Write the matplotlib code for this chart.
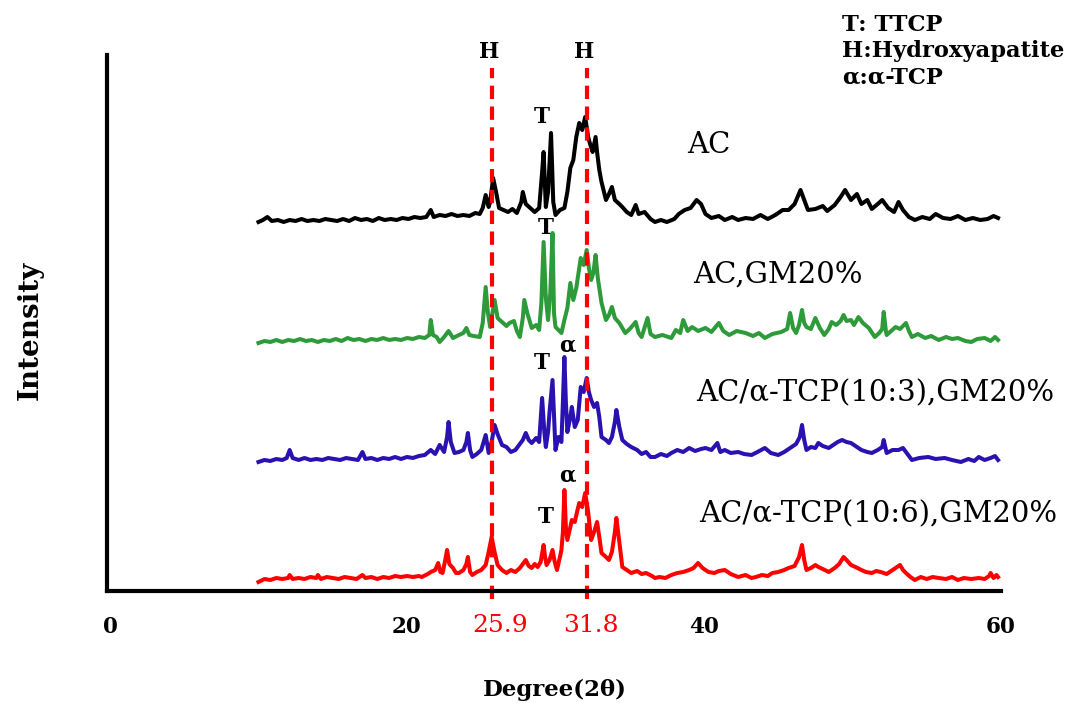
import matplotlib
matplotlib.use("Agg")
import matplotlib.pyplot as plt

plt.rcParams['font.family'] = ['DejaVu Serif']

# ---- XRD patterns (degree 2theta, intensity above own baseline) ----
ac_deg = [10.0, 10.3, 10.6, 10.9, 11.3, 11.7, 12.1, 12.5, 12.9, 13.3, 13.7, 14.1, 14.5, 14.9,
          15.3, 15.7, 16.1, 16.5, 16.9, 17.3, 17.7, 18.1, 18.5, 18.9, 19.3, 19.7, 20.1, 20.5,
          20.9, 21.3, 21.6, 21.8, 22.2, 22.6, 23.0, 23.4, 23.8, 24.2, 24.6, 24.9, 25.1, 25.3,
          25.5, 25.6, 25.8, 26.0, 26.2, 26.5, 26.8, 27.1, 27.4, 27.7, 27.8, 28.0, 28.3, 28.6,
          28.9, 29.1, 29.2, 29.35, 29.5, 29.7, 29.85, 30.0, 30.3, 30.6, 30.8, 31.0, 31.2, 31.4,
          31.6, 31.8, 32.0, 32.2, 32.35, 32.5, 32.7, 32.8, 32.95, 33.1, 33.4, 33.6, 33.8, 34.0,
          34.3, 34.5, 34.8, 35.1, 35.4, 35.6, 36.0, 36.4, 36.7, 37.1, 37.5, 38.0, 38.3, 38.7,
          39.1, 39.5, 39.8, 40.1, 40.5, 41.0, 41.4, 41.9, 42.3, 42.8, 43.3, 43.8, 44.3, 44.8,
          45.3, 45.7, 46.1, 46.5, 46.8, 47.0, 47.5, 48.0, 48.3, 48.8, 49.2, 49.5, 49.9, 50.3,
          50.6, 51.0, 51.3, 51.7, 52.0, 52.4, 52.8, 53.1, 53.4, 53.8, 54.2, 54.7, 55.2, 55.6,
          56.1, 56.6, 57.1, 57.6, 58.1, 58.6, 59.1, 59.5, 59.8]
ac_int = [0, 2, 5, 1, 2, 0, 2, 1, 3, 1, 2, 1, 3, 2,
          1, 3, 1, 4, 2, 3, 1, 4, 2, 3, 2, 4, 3, 5,
          4, 5, 12, 5, 7, 6, 8, 6, 7, 6, 9, 8, 14, 27,
          15, 20, 44, 30, 14, 12, 10, 13, 9, 20, 30, 18, 14, 10,
          14, 50, 70, 15, 30, 89, 20, 7, 12, 14, 30, 54, 62, 85,
          99, 92, 105, 85, 77, 70, 85, 70, 52, 40, 22, 28, 35, 22,
          18, 15, 10, 7, 17, 8, 10, 3, 0, 2, 0, 3, 8, 12,
          14, 22, 18, 8, 4, 6, 2, 5, 2, 4, 3, 7, 3, 7,
          12, 12, 18, 32, 20, 12, 13, 16, 11, 17, 25, 32, 22, 28,
          18, 22, 13, 18, 22, 14, 10, 20, 12, 5, 2, 5, 3, 8,
          4, 3, 6, 2, 4, 2, 3, 6, 4]

gm_deg = [10.0, 10.4, 10.8, 11.2, 11.6, 12.0, 12.4, 12.8, 13.2, 13.6, 14.0, 14.4, 14.8, 15.2,
          15.6, 16.0, 16.4, 16.8, 17.2, 17.6, 18.0, 18.4, 18.8, 19.2, 19.6, 20.0, 20.4, 20.8,
          21.2, 21.5, 21.6, 21.75, 22.0, 22.2, 22.5, 22.8, 23.1, 23.5, 23.8, 24.0, 24.2, 24.5,
          24.9, 25.1, 25.3, 25.45, 25.6, 25.9, 26.1, 26.4, 26.7, 26.9, 27.2, 27.4, 27.6, 27.8,
          27.9, 28.1, 28.4, 28.7, 28.9, 29.05, 29.2, 29.35, 29.5, 29.65, 29.8, 29.9, 30.0, 30.2,
          30.4, 30.6, 30.8, 31.0, 31.2, 31.4, 31.7, 31.9, 32.1, 32.25, 32.4, 32.55, 32.7, 32.85,
          33.1, 33.4, 33.6, 33.8, 34.0, 34.3, 34.5, 34.7, 35.0, 35.4, 35.6, 35.8, 36.2, 36.4,
          36.7, 37.2, 37.8, 38.1, 38.4, 38.6, 38.9, 39.2, 39.6, 40.1, 40.5, 41.0, 41.3, 41.7,
          42.2, 42.8, 43.3, 43.7, 44.1, 44.6, 45.2, 45.6, 45.8, 46.0, 46.2, 46.4, 46.6, 46.75,
          46.9, 47.2, 47.5, 47.8, 48.1, 48.4, 48.6, 48.9, 49.2, 49.4, 49.6, 49.9, 50.1, 50.4,
          50.7, 51.1, 51.5, 51.8, 52.0, 52.1, 52.25, 52.3, 52.6, 52.9, 53.2, 53.6, 53.8, 54.0,
          54.4, 54.9, 55.3, 55.8, 56.3, 56.7, 57.1, 57.6, 58.0, 58.4, 58.9, 59.3, 59.6, 59.8]
gm_int = [0, 2, 1, 3, 1, 3, 2, 4, 2, 3, 1, 3, 2, 4,
          2, 5, 3, 4, 2, 4, 3, 5, 3, 4, 3, 5, 4, 6,
          5, 8, 23, 8, 6, 1, 6, 12, 5, 8, 10, 15, 8, 7,
          6, 20, 56, 30, 16, 43, 25, 21, 17, 20, 22, 12, 6, 25,
          43, 30, 15, 18, 13, 40, 101, 45, 23, 50, 110, 30, 16, 13,
          10, 23, 35, 60, 43, 55, 85, 78, 93, 75, 63, 70, 88, 65,
          40, 23, 28, 36, 25, 20, 15, 10, 14, 21, 10, 6, 25, 9,
          6, 8, 5, 13, 10, 23, 12, 16, 12, 15, 11, 20, 12, 8,
          12, 10, 7, 10, 5, 9, 11, 14, 30, 15, 10, 18, 33, 20,
          16, 14, 25, 15, 8, 14, 21, 18, 22, 28, 22, 23, 18, 26,
          20, 15, 6, 10, 14, 31, 12, 8, 12, 16, 14, 20, 12, 6,
          9, 5, 7, 3, 6, 4, 5, 2, 1, 4, 5, 2, 6, 3]

tcp3_deg = [10.0, 10.4, 10.8, 11.2, 11.6, 11.9, 12.1, 12.3, 12.7, 13.1, 13.5, 13.9, 14.3, 14.7,
            15.1, 15.5, 15.9, 16.3, 16.7, 17.0, 17.2, 17.6, 18.0, 18.4, 18.8, 19.2, 19.6, 20.0,
            20.4, 20.8, 21.2, 21.6, 21.9, 22.2, 22.5, 22.7, 22.8, 22.95, 23.2, 23.5, 23.8, 24.0,
            24.1, 24.25, 24.4, 24.7, 25.0, 25.3, 25.5, 25.7, 25.9, 26.1, 26.4, 26.7, 27.0, 27.3,
            27.6, 27.8, 28.0, 28.2, 28.4, 28.7, 28.9, 29.1, 29.25, 29.35, 29.5, 29.6, 29.8, 29.95,
            30.0, 30.2, 30.4, 30.5, 30.6, 30.7, 30.8, 31.0, 31.1, 31.3, 31.5, 31.7, 31.9, 32.1,
            32.25, 32.4, 32.6, 32.8, 32.95, 33.1, 33.4, 33.6, 33.8, 34.0, 34.1, 34.3, 34.5, 34.8,
            35.1, 35.5, 35.8, 36.1, 36.4, 36.7, 37.1, 37.5, 37.8, 38.2, 38.6, 39.0, 39.4, 39.8,
            40.1, 40.5, 40.9, 41.1, 41.4, 41.8, 42.3, 42.7, 43.2, 43.6, 44.1, 44.5, 45.0, 45.4,
            45.9, 46.2, 46.45, 46.6, 46.75, 46.9, 47.2, 47.5, 47.7, 48.0, 48.4, 48.7, 49.0, 49.3,
            49.6, 49.9, 50.2, 50.6, 51.0, 51.3, 51.7, 52.0, 52.1, 52.25, 52.3, 52.7, 53.1, 53.4,
            53.6, 54.0, 54.5, 55.1, 55.6, 56.2, 56.7, 57.3, 57.8, 58.2, 58.5, 58.9, 59.3, 59.6,
            59.8]
tcp3_int = [0, 2, 1, 3, 2, 4, 12, 4, 2, 4, 2, 3, 2, 4,
            3, 2, 4, 3, 2, 10, 3, 4, 2, 4, 3, 5, 3, 5,
            4, 6, 7, 12, 8, 17, 10, 25, 40, 20, 9, 10, 12, 20,
            29, 12, 5, 8, 12, 27, 9, 20, 37, 28, 17, 15, 10, 12,
            18, 22, 29, 22, 19, 24, 20, 64, 30, 15, 30, 50, 82, 30,
            12, 25, 20, 60, 105, 60, 30, 45, 55, 35, 42, 75, 70, 84,
            70, 62, 55, 59, 45, 25, 22, 19, 25, 40, 52, 35, 22, 18,
            15, 12, 8, 10, 5, 5, 8, 6, 9, 12, 10, 14, 11, 13,
            14, 12, 19, 10, 12, 9, 10, 8, 7, 10, 14, 9, 7, 10,
            15, 18, 25, 37, 22, 12, 15, 14, 19, 16, 14, 17, 20, 22,
            20, 19, 16, 12, 10, 9, 12, 15, 22, 12, 9, 12, 12, 14,
            10, 2, 4, 5, 3, 4, 2, 0, 3, 1, 5, 2, 4, 6,
            2]

tcp6_deg = [10.0, 10.4, 10.8, 11.2, 11.6, 12.0, 12.1, 12.3, 12.7, 13.1, 13.5, 13.9, 14.0, 14.2,
            14.6, 15.0, 15.4, 15.8, 16.2, 16.6, 17.0, 17.2, 17.6, 18.0, 18.4, 18.8, 19.2, 19.6,
            20.0, 20.4, 20.8, 21.0, 21.4, 21.6, 21.9, 22.1, 22.25, 22.4, 22.55, 22.7, 22.85, 23.1,
            23.3, 23.5, 23.8, 24.0, 24.1, 24.25, 24.4, 24.7, 25.0, 25.3, 25.5, 25.7, 25.9, 26.1,
            26.4, 26.7, 27.0, 27.3, 27.6, 27.8, 28.0, 28.2, 28.4, 28.6, 28.8, 29.0, 29.2, 29.3,
            29.4, 29.6, 29.8, 29.95, 30.1, 30.3, 30.4, 30.5, 30.6, 30.7, 30.8, 31.0, 31.1, 31.3,
            31.45, 31.6, 31.8, 32.0, 32.2, 32.4, 32.6, 32.8, 32.95, 33.1, 33.4, 33.6, 33.8, 34.0,
            34.1, 34.3, 34.5, 34.8, 35.1, 35.5, 35.8, 36.1, 36.5, 36.7, 37.0, 37.4, 37.8, 38.2,
            38.6, 39.0, 39.3, 39.6, 39.9, 40.3, 40.7, 41.0, 41.4, 41.8, 42.3, 42.8, 43.2, 43.5,
            43.9, 44.3, 44.6, 45.0, 45.4, 45.7, 46.1, 46.4, 46.6, 46.75, 46.9, 47.2, 47.5, 47.7,
            48.0, 48.4, 48.8, 49.1, 49.4, 49.6, 49.9, 50.2, 50.6, 50.9, 51.3, 51.6, 51.9, 52.3,
            52.7, 53.0, 53.2, 53.4, 53.6, 53.9, 54.2, 54.6, 55.0, 55.4, 55.8, 56.3, 56.7, 57.1,
            57.5, 58.0, 58.5, 58.9, 59.2, 59.3, 59.5, 59.7, 59.8]
tcp6_int = [0, 3, 2, 4, 3, 4, 7, 3, 4, 3, 5, 4, 7, 3,
            5, 4, 3, 5, 4, 3, 7, 4, 5, 3, 5, 4, 6, 5,
            6, 5, 6, 5, 8, 10, 12, 19, 10, 9, 20, 32, 18, 14,
            9, 9, 12, 18, 25, 10, 7, 10, 12, 17, 30, 45, 30, 17,
            12, 9, 12, 10, 14, 18, 22, 16, 14, 18, 15, 20, 37, 25,
            17, 22, 32, 20, 12, 25, 32, 50, 92, 55, 42, 55, 62, 60,
            70, 79, 75, 89, 70, 42, 50, 60, 45, 29, 25, 22, 30, 50,
            64, 40, 15, 12, 9, 11, 8, 9, 6, 4, 5, 4, 7, 9,
            10, 12, 14, 19, 14, 10, 9, 11, 12, 8, 5, 7, 4, 5,
            7, 6, 9, 10, 12, 14, 16, 25, 37, 22, 12, 14, 17, 15,
            13, 10, 14, 18, 25, 22, 17, 15, 12, 10, 9, 11, 10, 8,
            12, 15, 17, 12, 9, 5, 2, 5, 3, 5, 4, 3, 5, 2,
            4, 3, 4, 3, 6, 9, 4, 7, 5]

labels = ["AC", "AC,GM20%", "AC/α-TCP(10:3),GM20%", "AC/α-TCP(10:6),GM20%"]
colors = ["#000000", "#2e9b3a", "#2a12b0", "#ff0000"]
offsets = [369, 248, 129, 9]
hap_pos = [25.7, 32.1]
hap_text = ["25.9", "31.8"]
hap_text_x = [26.3, 32.4]

fig = plt.figure(figsize=(10.71, 7.11), dpi=100)
ax = fig.add_axes([107 / 1071, 120 / 711, 894 / 1071, 536 / 711])

data = [(ac_deg, ac_int), (gm_deg, gm_int), (tcp3_deg, tcp3_int), (tcp6_deg, tcp6_int)]
for (xs, ys), c, off in zip(data, colors, offsets):
    ax.plot(xs, [v + off for v in ys], color=c, lw=2.9, solid_joinstyle='round')

# hydroxyapatite reference lines
for x in hap_pos:
    ax.plot([x, x], [-8, 523], color="#ff0000", lw=3, dashes=(3.2, 1.8), clip_on=False)
    ax.text(x - 0.15, 539, "H", ha="center", va="center", fontsize=15.5, fontweight="bold",
            clip_on=False)
for x, t in zip(hap_text_x, hap_text):
    ax.text(x, -34, t, ha="center", va="center", fontsize=18, color="#ff0000",
            clip_on=False)

# sample names
lab_pos = [(38.85, 446), (39.3, 316), (39.45, 198), (39.7, 77)]
for (x, y), t in zip(lab_pos, labels):
    ax.text(x, y, t, ha="left", va="center", fontsize=21)

# phase markers
marks = [(29.1, 474, "T"), (29.37, 363, "T"), (29.1, 228, "T"), (30.8, 246, "α"),
         (29.37, 74, "T"), (30.8, 116, "α")]
for x, y, t in marks:
    ax.text(x, y, t, ha="center", va="center", fontsize=15.5, fontweight="bold")

ax.set_xlim(-0.2, 59.95)
ax.set_ylim(0, 536)
ax.set_xticks([0, 20, 40, 60])
ax.set_xticklabels(["0", "20", "40", "60"], fontsize=15.5, fontweight="bold")
ax.tick_params(axis="x", length=0, pad=18)
ax.set_yticks([])
for s in ["top", "right"]:
    ax.spines[s].set_visible(False)
for s in ["left", "bottom"]:
    ax.spines[s].set_linewidth(3)

fig.text(30 / 1071, 1 - 330 / 711, "Intensity", rotation=90, ha="center", va="center",
         fontsize=20, fontweight="bold")
fig.text(555 / 1071, 1 - 690 / 711, "Degree(2θ)", ha="center", va="center",
         fontsize=16.5, fontweight="bold")

legend_lines = ["T: TTCP", "H:Hydroxyapatite", "α:α-TCP"]
for i, t in enumerate(legend_lines):
    fig.text(842 / 1071, 1 - (25 + 26.5 * i) / 711, t, ha="left", va="center",
             fontsize=16.3, fontweight="bold")

fig.savefig("out.png", dpi=100)
